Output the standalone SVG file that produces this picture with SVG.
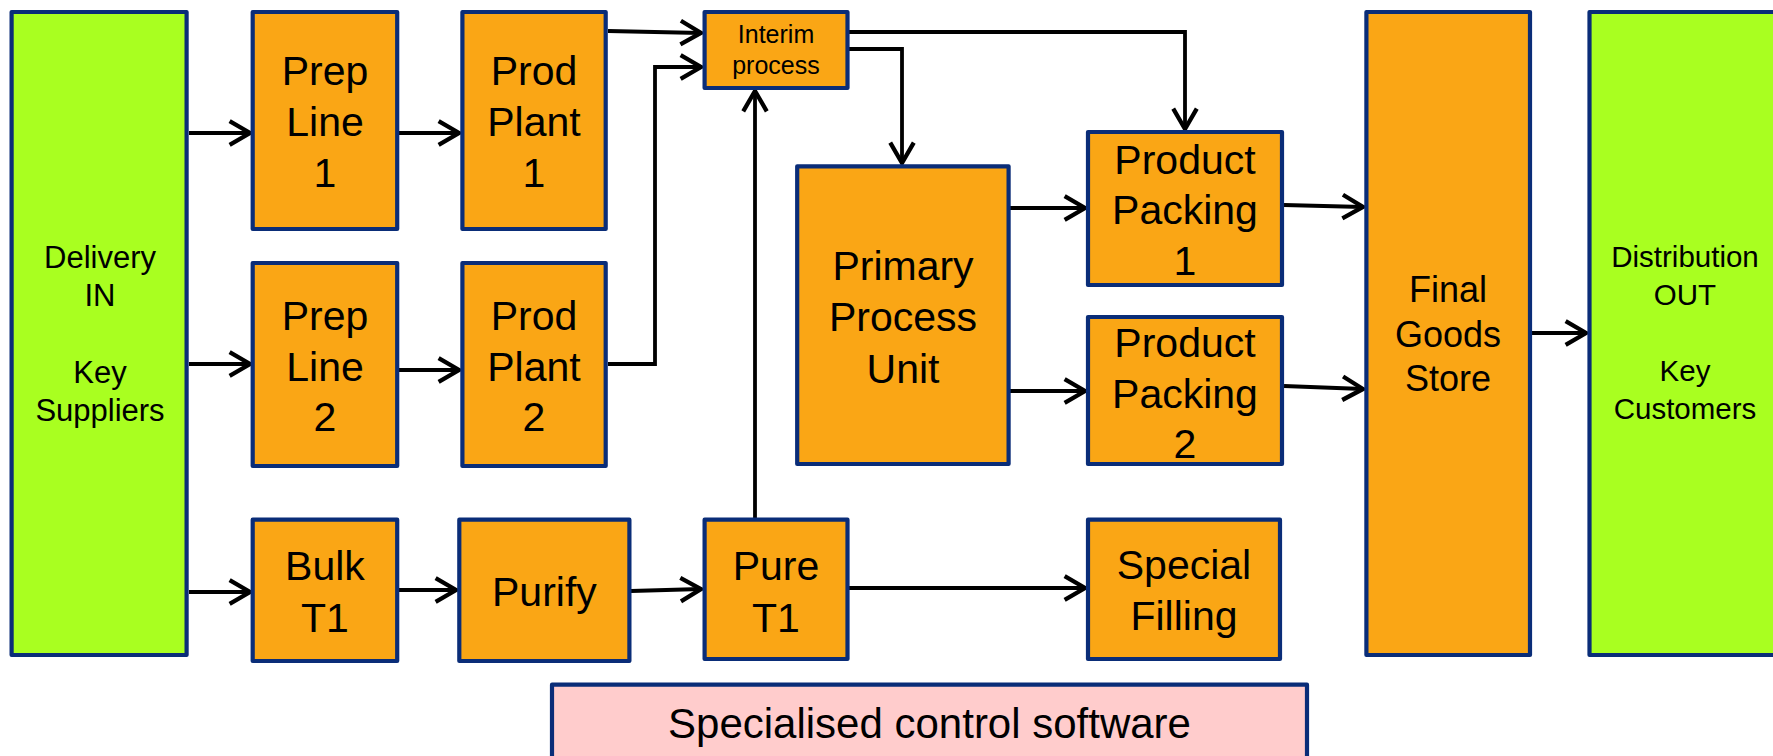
<svg xmlns="http://www.w3.org/2000/svg" width="1773" height="756" viewBox="0 0 1773 756">
  <defs>
    <style>
      .box { stroke: #0a2d78; stroke-width: 4.2; stroke-linejoin: round; }
      .orange { fill: #faa615; }
      .green { fill: #a9ff20; }
      .pink { fill: #ffcccc; }
      text { font-family: "Liberation Sans", Arial, sans-serif; fill: #000; text-anchor: middle; }
      .t41 { font-size: 41px; }
      .t36 { font-size: 36px; }
      .t31 { font-size: 31px; }
      .t29 { font-size: 29.5px; }
      .t25 { font-size: 25px; }
      .t42 { font-size: 42px; }
      .conn { fill: none; stroke: #000; stroke-width: 3.8; marker-end: url(#arrow); }
    </style>
    <marker id="arrow" markerUnits="userSpaceOnUse" markerWidth="30" markerHeight="30" refX="0" refY="0" viewBox="-22 -14 26 28" orient="auto" overflow="visible">
      <path d="M-19,-11 L0,0 L-19,11" fill="none" stroke="#000" stroke-width="4" stroke-linejoin="miter"/>
    </marker>
  </defs>

  <rect width="1773" height="756" fill="#ffffff"/>

  <!-- connectors -->
  <g id="connectors">
    <line class="conn" x1="189" y1="133" x2="250" y2="133"/>
    <line class="conn" x1="399" y1="133" x2="459" y2="133"/>
    <line class="conn" x1="189" y1="364" x2="250" y2="364"/>
    <line class="conn" x1="399" y1="370" x2="459" y2="370"/>
    <line class="conn" x1="189" y1="592" x2="250" y2="592"/>
    <line class="conn" x1="399" y1="590" x2="456" y2="590"/>
    <line class="conn" x1="631" y1="591" x2="701" y2="589"/>
    <line class="conn" x1="849" y1="588" x2="1085" y2="588"/>
    <line class="conn" x1="755" y1="518" x2="755" y2="91"/>
    <line class="conn" x1="608" y1="31" x2="701" y2="33"/>
    <polyline class="conn" points="608,364 655,364 655,67 701,67"/>
    <polyline class="conn" points="849,32 1185,32 1185,129"/>
    <polyline class="conn" points="849,49 902,49 902,163"/>
    <line class="conn" x1="1010" y1="208" x2="1085" y2="208"/>
    <line class="conn" x1="1010" y1="391" x2="1085" y2="391"/>
    <line class="conn" x1="1284" y1="205" x2="1363" y2="207"/>
    <line class="conn" x1="1284" y1="386" x2="1363" y2="389"/>
    <line class="conn" x1="1532" y1="333" x2="1586" y2="333"/>
  </g>

  <g id="delivery-in">
    <rect class="box green" x="11.6" y="12" width="175" height="643"/>
    <text class="t31" x="100"><tspan x="100" y="268">Delivery</tspan><tspan x="100" y="306">IN</tspan><tspan x="100" y="383">Key</tspan><tspan x="100" y="421">Suppliers</tspan></text>
  </g>

  <g id="prep-line-1">
    <rect class="box orange" x="252.7" y="12" width="144.5" height="217"/>
    <text class="t41"><tspan x="325" y="85">Prep</tspan><tspan x="325" y="136">Line</tspan><tspan x="325" y="187">1</tspan></text>
  </g>

  <g id="prod-plant-1">
    <rect class="box orange" x="462.4" y="12" width="143.3" height="217"/>
    <text class="t41"><tspan x="534" y="85">Prod</tspan><tspan x="534" y="136">Plant</tspan><tspan x="534" y="187">1</tspan></text>
  </g>

  <g id="prep-line-2">
    <rect class="box orange" x="252.7" y="263" width="144.5" height="203"/>
    <text class="t41"><tspan x="325" y="330">Prep</tspan><tspan x="325" y="381">Line</tspan><tspan x="325" y="431">2</tspan></text>
  </g>

  <g id="prod-plant-2">
    <rect class="box orange" x="462.4" y="263" width="143.3" height="203"/>
    <text class="t41"><tspan x="534" y="330">Prod</tspan><tspan x="534" y="381">Plant</tspan><tspan x="534" y="431">2</tspan></text>
  </g>

  <g id="bulk-t1">
    <rect class="box orange" x="252.7" y="519.7" width="144.5" height="141.3"/>
    <text class="t41"><tspan x="325" y="580">Bulk</tspan><tspan x="325" y="632">T1</tspan></text>
  </g>

  <g id="purify">
    <rect class="box orange" x="459.3" y="519.7" width="170.1" height="141.3"/>
    <text class="t41" x="544.4" y="606">Purify</text>
  </g>

  <g id="interim-process">
    <rect class="box orange" x="704.6" y="12" width="142.9" height="76"/>
    <text class="t25"><tspan x="776" y="43">Interim</tspan><tspan x="776" y="74">process</tspan></text>
  </g>

  <g id="primary-process-unit">
    <rect class="box orange" x="797.2" y="166.3" width="211.4" height="297.7"/>
    <text class="t41"><tspan x="903" y="280">Primary</tspan><tspan x="903" y="331">Process</tspan><tspan x="903" y="383">Unit</tspan></text>
  </g>

  <g id="pure-t1">
    <rect class="box orange" x="704.6" y="519.7" width="142.9" height="139.3"/>
    <text class="t41"><tspan x="776" y="580">Pure</tspan><tspan x="776" y="632">T1</tspan></text>
  </g>

  <g id="product-packing-1">
    <rect class="box orange" x="1088" y="132" width="194" height="153"/>
    <text class="t41"><tspan x="1185" y="174">Product</tspan><tspan x="1185" y="224">Packing</tspan><tspan x="1185" y="275">1</tspan></text>
  </g>

  <g id="product-packing-2">
    <rect class="box orange" x="1088" y="317" width="194" height="147"/>
    <text class="t41"><tspan x="1185" y="357">Product</tspan><tspan x="1185" y="408">Packing</tspan><tspan x="1185" y="458">2</tspan></text>
  </g>

  <g id="special-filling">
    <rect class="box orange" x="1088" y="519.7" width="192" height="139.3"/>
    <text class="t41"><tspan x="1184" y="579">Special</tspan><tspan x="1184" y="630">Filling</tspan></text>
  </g>

  <g id="final-goods-store">
    <rect class="box orange" x="1366.4" y="12" width="163.6" height="643"/>
    <text class="t36"><tspan x="1448" y="302">Final</tspan><tspan x="1448" y="347">Goods</tspan><tspan x="1448" y="391">Store</tspan></text>
  </g>

  <g id="distribution-out">
    <rect class="box green" x="1589.5" y="12" width="192" height="643"/>
    <text class="t29"><tspan x="1685" y="267">Distribution</tspan><tspan x="1685" y="305">OUT</tspan><tspan x="1685" y="381">Key</tspan><tspan x="1685" y="419">Customers</tspan></text>
  </g>

  <g id="control-software">
    <rect class="box pink" x="552" y="684.7" width="755" height="90"/>
    <text class="t42" x="929.5" y="738">Specialised control software</text>
  </g>
</svg>
